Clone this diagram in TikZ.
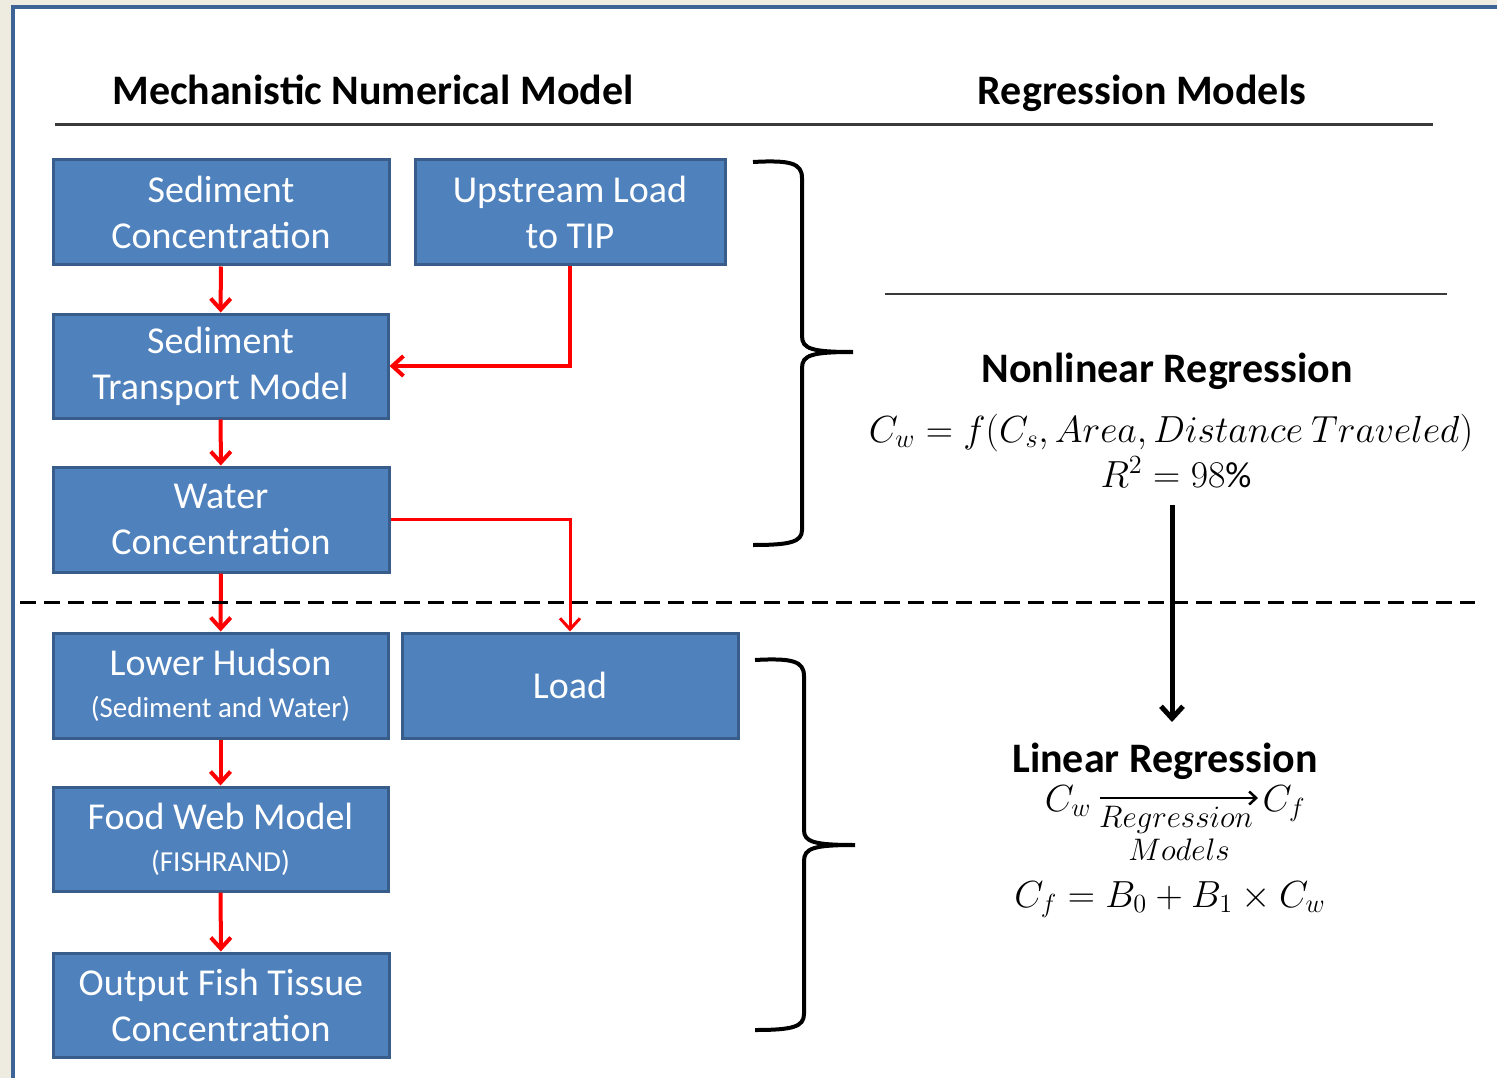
\documentclass[tikz,border=0pt]{standalone}
\usepackage{amsmath}
\usepackage{fontspec}
\setmainfont{Carlito}
\usetikzlibrary{arrows.meta}
\definecolor{boxblue}{HTML}{4F81BD}
\definecolor{boxedge}{HTML}{385D8A}
\definecolor{pagebg}{HTML}{EEEBE0}
\definecolor{frameblue}{HTML}{3E6396}
\definecolor{rulegray}{HTML}{3A3A3A}
\begin{document}
\begin{tikzpicture}[x=1pt,y=-1pt,
  box/.style={draw=boxedge, line width=3pt, fill=boxblue, text=white, inner sep=0pt,
    align=center, font=\fontsize{38}{46}\selectfont},
  redarrow/.style={draw=red, line width=4pt, -{Straight Barb[length=11pt,width=20pt]}},
  blackarrow/.style={draw=black, line width=5pt, -{Straight Barb[length=12pt,width=22pt]}},
  heading/.style={font=\fontsize{42}{50}\selectfont\bfseries, anchor=base, inner sep=0pt},
  mathtxt/.style={font=\fontsize{20}{24}\selectfont, scale=1.82, anchor=base, inner sep=0pt},
  mathsmall/.style={font=\fontsize{20}{24}\selectfont, scale=1.5, anchor=base, inner sep=0pt},
  bracket/.style={draw=black, line width=4pt},
  rulestyle/.style={draw=rulegray, line width=3pt}
]
\useasboundingbox (0,0) rectangle (1497,1078);
\fill[pagebg] (0,0) rectangle (1497,1078);
\filldraw[fill=white, draw=frameblue, line width=4pt] (13,7.5) rectangle (1520,1100);

% headings
\node[heading] (h1) at (373,105) {Mechanistic Numerical Model};
\node[heading] (h2) at (1142,105) {Regression Models};
\draw[rulestyle] (55,125) -- (1433,125);

% boxes
\node[box, minimum width=336pt, minimum height=105pt] (sc) at (221,212.5) {Sediment\\Concentration};
\node[box, minimum width=310pt, minimum height=105pt] (up) at (570,212.5) {Upstream Load\\to TIP};
\node[box, minimum width=335pt, minimum height=104pt] (stm) at (220.5,366) {Sediment\\Transport Model};
\node[box, minimum width=336pt, minimum height=105pt] (wc) at (221,519.5) {Water\\Concentration};
\node[box, minimum width=335pt, minimum height=105pt] (lh) at (220.5,685.5) {Lower Hudson\\[-4pt]{\fontsize{29}{34}\selectfont (Sediment and Water)}};
\node[box, minimum width=336pt, minimum height=105pt] (load) at (570,685.5) {Load};
\node[box, minimum width=335pt, minimum height=104pt] (fw) at (220.5,839) {Food Web Model\\[-4pt]{\fontsize{29}{34}\selectfont (FISHRAND)}};
\node[box, minimum width=336pt, minimum height=104pt] (out) at (221,1005) {Output Fish Tissue\\Concentration};

% red connectors
\draw[redarrow] (sc) -- (stm);
\draw[redarrow] (up.south) |- (stm.east);
\draw[redarrow] (stm) -- (wc);
\draw[redarrow] (wc) -- (lh);
\draw[redarrow, line width=3pt] (wc.east) -| (load.north);
\draw[redarrow] (lh) -- (fw);
\draw[redarrow] (fw) -- (out);

% dashed separator
\draw[black, line width=3pt, dash pattern=on 16pt off 8pt] (20,602) -- (1475,602);

% brackets
\draw[bracket] (753,162) .. controls (790,160) and (802,163) .. (802,178) -- (802,336)
  .. controls (802,349) and (812,352) .. (853,352)
  .. controls (812,352) and (802,355) .. (802,368) -- (802,530)
  .. controls (802,542) and (790,545) .. (753,545);
\draw[bracket] (755,660) .. controls (792,658) and (804,661) .. (804,676) -- (804,830)
  .. controls (804,842) and (814,845) .. (855,845)
  .. controls (814,845) and (804,848) .. (804,861) -- (804,1014)
  .. controls (804,1027) and (792,1030) .. (755,1030);

% nonlinear regression
\draw[draw=rulegray, line width=2.5pt] (885,294) -- (1447,294);
\node[heading] (nl) at (1167,382) {Nonlinear Regression};
\node[mathtxt] (eq1) at (1171,442) {$C_w = f(C_s, Area, Distance\ Traveled)$};
\node[mathtxt] (eq2) at (1176,487) {$R^2 = 98\%$};

\coordinate (bt) at (1172,505);
\coordinate (bb) at (1172,722);
\draw[blackarrow] (bt) -- (bb);

% linear regression
\node[heading] (lr) at (1165,772) {Linear Regression};
\node[mathtxt] (cw) at (1068,811) {$C_w$};
\node[mathtxt] (cf) at (1284,811) {$C_f$};
\coordinate (a1) at (1100,798);
\coordinate (a2) at (1258,798);
\draw[line width=2.5pt, -{Straight Barb[length=7pt,width=13pt]}] (a1) -- (a2);
\node[mathsmall] (rg) at (1176,827) {$Regression$};
\node[mathsmall] (md) at (1179,860) {$Models$};
\node[mathtxt] (eq3) at (1170,907) {$C_f = B_0 + B_1 \times C_w$};
\end{tikzpicture}
\end{document}
